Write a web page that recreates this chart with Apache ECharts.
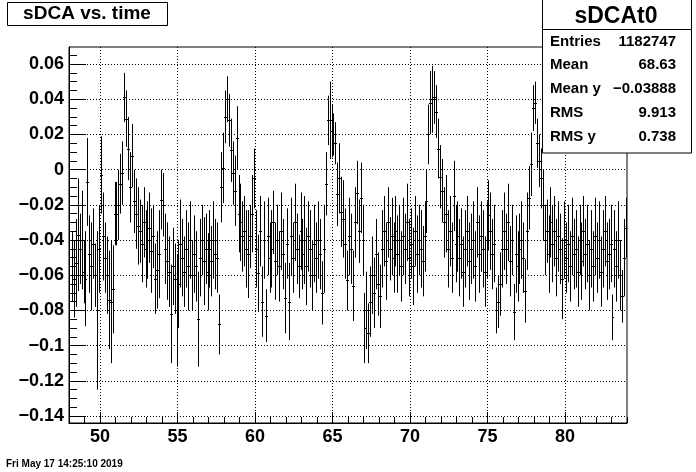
<!DOCTYPE html>
<html>
<head>
<meta charset="utf-8">
<script src="https://cdn.jsdelivr.net/npm/echarts@6/dist/echarts.min.js"></script>
<style>
html,body{margin:0;padding:0;background:#fff;}
#chart{width:696px;height:472px;}
</style>
</head>
<body>
<div id="chart"></div>
<script>
// ---- data (TProfile sDCAt0: mean sDCA per time bin, with error) ----
var xMin = 48, xMax = 84, binWidth = 0.125;
var yMin = -0.144, yMax = 0.0697;

var binMeans = [
  // 48
  null, -0.055, -0.062, -0.053, -0.037, -0.045, -0.040, -0.058,
  // 49
  -0.062, -0.007, -0.048, -0.055, -0.042, -0.060, -0.080, -0.045,
  // 50
  -0.003, -0.038, -0.050, -0.060, -0.074, -0.075, -0.068, -0.025,
  // 51
  -0.025, -0.020, -0.008, -0.002, 0.041, 0.029, 0.012, -0.010,
  // 52
  0.008, -0.018, -0.025, -0.032, -0.035, -0.042, -0.030, -0.045,
  // 53
  -0.040, -0.033, -0.046, -0.038, -0.062, -0.057, -0.048, -0.017,
  // 54
  -0.020, -0.045, -0.052, -0.058, -0.082, -0.055, -0.062, -0.080,
  // 55
  -0.065, -0.042, -0.050, -0.058, -0.045, -0.055, -0.040, -0.060,
  // 56
  -0.048, -0.055, -0.085, -0.050, -0.040, -0.052, -0.045, -0.058,
  // 57
  -0.045, -0.052, -0.040, -0.048, -0.050, -0.088, -0.010, 0.001,
  // 58
  0.030, 0.040, 0.028, 0.011, -0.002, -0.012, 0.018, -0.025,
  // 59
  -0.030, -0.038, -0.035, -0.045, -0.048, -0.038, -0.025, -0.005,
  // 60
  -0.045, -0.059, -0.035, -0.075, -0.040, -0.083, -0.038, -0.050,
  // 61
  -0.045, -0.030, -0.052, -0.040, -0.055, -0.035, -0.048, -0.073,
  // 62
  -0.042, -0.075, -0.038, -0.050, -0.030, -0.045, -0.055, -0.035,
  // 63
  -0.048, -0.040, -0.055, -0.038, -0.045, -0.060, -0.042, -0.050,
  // 64
  -0.040, -0.048, -0.070, -0.045, -0.008, 0.028, 0.028, 0.022,
  // 65
  0.020, 0.015, -0.014, -0.005, -0.024, -0.028, -0.042, -0.063,
  // 66
  -0.038, -0.045, -0.066, -0.030, -0.013, -0.035, -0.016, -0.040,
  // 67
  -0.090, -0.080, -0.093, -0.075, -0.060, -0.070, -0.048, -0.065,
  // 68
  -0.072, -0.045, -0.035, -0.052, -0.030, -0.045, -0.038, -0.050,
  // 69
  -0.035, -0.048, -0.040, -0.055, -0.038, -0.045, -0.030, -0.050,
  // 70
  -0.042, -0.055, -0.035, -0.048, -0.040, -0.045, -0.052, -0.038,
  // 71
  -0.018, 0.020, 0.038, 0.040, 0.041, 0.033, 0.012, -0.004,
  // 72
  -0.012, -0.030, -0.025, -0.045, -0.035, -0.050, -0.015, -0.042,
  // 73
  -0.038, -0.050, -0.042, -0.058, -0.045, -0.035, -0.052, -0.045,
  // 74
  -0.040, -0.055, -0.030, -0.048, -0.038, -0.045, -0.058, -0.040,
  // 75
  -0.026, -0.035, -0.048, -0.042, -0.080, -0.075, -0.065, -0.045,
  // 76
  -0.035, -0.045, -0.030, -0.052, -0.040, -0.081, -0.048, -0.055,
  // 77
  -0.045, -0.040, -0.050, -0.069, -0.035, -0.016, 0.003, 0.035,
  // 78
  0.038, 0.015, 0.005, -0.005, -0.020, -0.040, -0.035, -0.048,
  // 79
  -0.030, -0.042, -0.035, -0.050, -0.038, -0.045, -0.062, -0.040,
  // 80
  -0.050, -0.042, -0.055, -0.038, -0.048, -0.045, -0.058, -0.040,
  // 81
  -0.052, -0.035, -0.048, -0.042, -0.060, -0.045, -0.055, -0.038,
  // 82
  -0.050, -0.040, -0.058, -0.045, -0.035, -0.052, -0.048, -0.042,
  // 83
  -0.084, -0.045, -0.055, -0.040, -0.060, -0.072, -0.050, -0.033
];

var binErrors = [
  // 48
  null, 0.020, 0.022, 0.025, 0.032, 0.020, 0.028, 0.018,
  // 49
  0.027, 0.025, 0.022, 0.025, 0.020, 0.018, 0.045, 0.025,
  // 50
  0.022, 0.025, 0.020, 0.022, 0.028, 0.035, 0.025, 0.018,
  // 51
  0.018, 0.020, 0.017, 0.018, 0.014, 0.016, 0.018, 0.020,
  // 52
  0.018, 0.018, 0.020, 0.022, 0.018, 0.022, 0.020, 0.022,
  // 53
  0.022, 0.020, 0.024, 0.018, 0.020, 0.022, 0.025, 0.017,
  // 54
  0.018, 0.020, 0.022, 0.020, 0.028, 0.022, 0.020, 0.032,
  // 55
  0.025, 0.025, 0.022, 0.020, 0.022, 0.025, 0.022, 0.020,
  // 56
  0.022, 0.020, 0.027, 0.022, 0.020, 0.025, 0.020, 0.022,
  // 57
  0.022, 0.020, 0.022, 0.020, 0.020, 0.017, 0.020, 0.020,
  // 58
  0.015, 0.013, 0.015, 0.018, 0.018, 0.020, 0.018, 0.022,
  // 59
  0.022, 0.020, 0.020, 0.022, 0.025, 0.018, 0.022, 0.017,
  // 60
  0.022, 0.022, 0.020, 0.020, 0.022, 0.015, 0.022, 0.020,
  // 61
  0.022, 0.018, 0.022, 0.020, 0.020, 0.022, 0.020, 0.020,
  // 62
  0.020, 0.022, 0.022, 0.020, 0.022, 0.020, 0.018, 0.022,
  // 63
  0.020, 0.025, 0.022, 0.020, 0.022, 0.020, 0.022, 0.020,
  // 64
  0.022, 0.020, 0.018, 0.025, 0.018, 0.014, 0.022, 0.015,
  // 65
  0.012, 0.012, 0.018, 0.020, 0.020, 0.022, 0.020, 0.017,
  // 66
  0.022, 0.020, 0.020, 0.020, 0.018, 0.018, 0.020, 0.020,
  // 67
  0.020, 0.022, 0.017, 0.020, 0.022, 0.020, 0.020, 0.018,
  // 68
  0.018, 0.022, 0.020, 0.022, 0.020, 0.018, 0.022, 0.020,
  // 69
  0.020, 0.022, 0.020, 0.020, 0.022, 0.020, 0.022, 0.022,
  // 70
  0.020, 0.022, 0.020, 0.022, 0.020, 0.022, 0.020, 0.020,
  // 71
  0.018, 0.017, 0.018, 0.019, 0.015, 0.015, 0.017, 0.018,
  // 72
  0.018, 0.020, 0.022, 0.022, 0.020, 0.020, 0.020, 0.022,
  // 73
  0.020, 0.022, 0.020, 0.020, 0.022, 0.020, 0.022, 0.020,
  // 74
  0.022, 0.020, 0.020, 0.022, 0.020, 0.022, 0.020, 0.022,
  // 75
  0.020, 0.022, 0.020, 0.022, 0.013, 0.015, 0.018, 0.022,
  // 76
  0.022, 0.020, 0.022, 0.020, 0.020, 0.016, 0.022, 0.020,
  // 77
  0.020, 0.022, 0.020, 0.018, 0.022, 0.018, 0.018, 0.013,
  // 78
  0.012, 0.014, 0.015, 0.017, 0.020, 0.020, 0.018, 0.022,
  // 79
  0.020, 0.022, 0.020, 0.022, 0.020, 0.020, 0.023, 0.022,
  // 80
  0.020, 0.022, 0.020, 0.022, 0.020, 0.022, 0.020, 0.020,
  // 81
  0.022, 0.020, 0.020, 0.022, 0.020, 0.022, 0.020, 0.022,
  // 82
  0.020, 0.022, 0.020, 0.022, 0.020, 0.022, 0.020, 0.022,
  // 83
  0.013, 0.022, 0.020, 0.022, 0.020, 0.015, 0.022, 0.017
];

var xTickValues = [50, 55, 60, 65, 70, 75, 80];
var xTickLabels = ['50', '55', '60', '65', '70', '75', '80'];
var yTickValues = [-0.14, -0.12, -0.1, -0.08, -0.06, -0.04, -0.02, 0, 0.02, 0.04, 0.06];
var yTickLabels = ['\u22120.14', '\u22120.12', '\u22120.1', '\u22120.08', '\u22120.06', '\u22120.04', '\u22120.02', '0', '0.02', '0.04', '0.06'];

var titleText = 'sDCA vs. time';
var statsTitle = 'sDCAt0';
var statsNames = ['Entries', 'Mean', 'Mean y', 'RMS', 'RMS y'];
var statsValues = ['1182747', '68.63', '\u22120.03888', '9.913', '0.738'];
var dateText = 'Fri May 17 14:25:10 2019';

// ---- build ----
var xMinorTicks = [];
for (var k = 48; k <= 84; k++) xMinorTicks.push(k);
var yMinorTicks = [];
for (var j = -28; j <= 13; j++) yMinorTicks.push(Math.round(j * 5) / 1000);

var seriesData = [];
for (var i = 0; i < binMeans.length; i++) {
  if (binMeans[i] === null) continue;
  seriesData.push([xMin + binWidth * (i + 0.5), binMeans[i], binErrors[i]]);
}

var FONT = '"Liberation Sans", Arial, Helvetica, sans-serif';

function yLabel(v) {
  for (var n = 0; n < yTickValues.length; n++) {
    if (Math.abs(yTickValues[n] - v) < 1e-6) return yTickLabels[n];
  }
  return '';
}
function xLabel(v) {
  for (var n = 0; n < xTickValues.length; n++) {
    if (Math.abs(xTickValues[n] - v) < 1e-6) return xTickLabels[n];
  }
  return '';
}

var dotted = { color: '#000', width: 1, type: [1, 2] };

var chart = echarts.init(document.getElementById('chart'), null, { renderer: 'canvas' });

var ZB = 1000;
var graphics = [
  { type: 'rect', z: ZB, shape: { x: 7.5, y: 2.5, width: 160, height: 23 }, style: { fill: '#fff', stroke: '#000', lineWidth: 1 } },
  { type: 'text', z: ZB + 1, x: 87, y: 14, style: { text: titleText, font: 'bold 19px ' + FONT, fill: '#000', align: 'center', verticalAlign: 'middle' } },
  { type: 'rect', z: ZB, shape: { x: 542.5, y: -1, width: 149, height: 154 }, style: { fill: '#fff', stroke: '#000', lineWidth: 1 } },
  { type: 'line', z: ZB + 1, shape: { x1: 542.5, y1: 29.5, x2: 691.5, y2: 29.5 }, style: { stroke: '#000', lineWidth: 1 } },
  { type: 'text', z: ZB + 1, x: 616, y: 17, style: { text: statsTitle, font: 'bold 23px ' + FONT, fill: '#000', align: 'center', verticalAlign: 'middle' } },
  { type: 'text', z: ZB, x: 6, y: 464, style: { text: dateText, font: 'bold 10px ' + FONT, fill: '#000', align: 'left', verticalAlign: 'middle' } }
];
var rowY = [42, 65, 89, 113, 137];
for (var r = 0; r < statsNames.length; r++) {
  graphics.push({ type: 'text', z: ZB + 1, x: 550, y: rowY[r], style: { text: statsNames[r], font: 'bold 15px ' + FONT, fill: '#000', align: 'left', verticalAlign: 'middle' } });
  graphics.push({ type: 'text', z: ZB + 1, x: 676, y: rowY[r], style: { text: statsValues[r], font: 'bold 15px ' + FONT, fill: '#000', align: 'right', verticalAlign: 'middle' } });
}

var option = {
  animation: false,
  backgroundColor: '#fff',
  grid: { left: 69, right: 69, top: 47, bottom: 49, show: true, borderColor: '#000', borderWidth: 1, backgroundColor: 'transparent' },
  xAxis: [
    {
      type: 'value', min: xMin, max: xMax, position: 'bottom',
      axisLine: { show: true, onZero: false, lineStyle: { color: '#000', width: 1 } },
      axisTick: { show: true, inside: true, length: 11, customValues: xTickValues, lineStyle: { color: '#000', width: 1 } },
      axisLabel: { show: true, customValues: xTickValues, formatter: xLabel, margin: 5, color: '#000', fontSize: 18, fontWeight: 'bold', fontFamily: FONT },
      splitLine: { show: true, lineStyle: dotted }
    },
    {
      type: 'value', min: xMin, max: xMax, position: 'bottom',
      axisLine: { show: false, onZero: false },
      axisTick: { show: true, inside: true, length: 6, customValues: xMinorTicks, lineStyle: { color: '#000', width: 1 } },
      axisLabel: { show: false },
      splitLine: { show: false }
    }
  ],
  yAxis: [
    {
      type: 'value', min: yMin, max: yMax, position: 'left',
      axisLine: { show: true, onZero: false, lineStyle: { color: '#000', width: 1 } },
      axisTick: { show: true, inside: true, length: 17, customValues: yTickValues, lineStyle: { color: '#000', width: 1 } },
      axisLabel: { show: true, customValues: yTickValues, formatter: yLabel, margin: 5, color: '#000', fontSize: 18, fontWeight: 'bold', fontFamily: FONT },
      splitLine: { show: true, lineStyle: dotted }
    },
    {
      type: 'value', min: yMin, max: yMax, position: 'left',
      axisLine: { show: false, onZero: false },
      axisTick: { show: true, inside: true, length: 8, customValues: yMinorTicks, lineStyle: { color: '#000', width: 1 } },
      axisLabel: { show: false },
      splitLine: { show: false }
    }
  ],
  series: [
    {
      type: 'custom',
      xAxisIndex: 0, yAxisIndex: 0,
      clip: true,
      z: 5,
      encode: { x: 0, y: 1 },
      data: seriesData,
      renderItem: function (params, api) {
        var x = api.value(0), m = api.value(1), e = api.value(2);
        var top = api.coord([x, m + e]);
        var bot = api.coord([x, m - e]);
        var lft = api.coord([x - binWidth / 2, m]);
        var rgt = api.coord([x + binWidth / 2, m]);
        var px = Math.round(top[0]) + 0.5;
        var py = Math.round(lft[1]) + 0.5;
        return {
          type: 'group',
          children: [
            { type: 'line', shape: { x1: px, y1: top[1], x2: px, y2: bot[1] }, style: { stroke: '#000', lineWidth: 1 } },
            { type: 'line', shape: { x1: Math.round(lft[0]), y1: py, x2: Math.round(rgt[0]) + 1, y2: py }, style: { stroke: '#000', lineWidth: 1 } }
          ]
        };
      }
    }
  ],
  graphic: graphics
};

chart.setOption(option);
</script>
</body>
</html>
